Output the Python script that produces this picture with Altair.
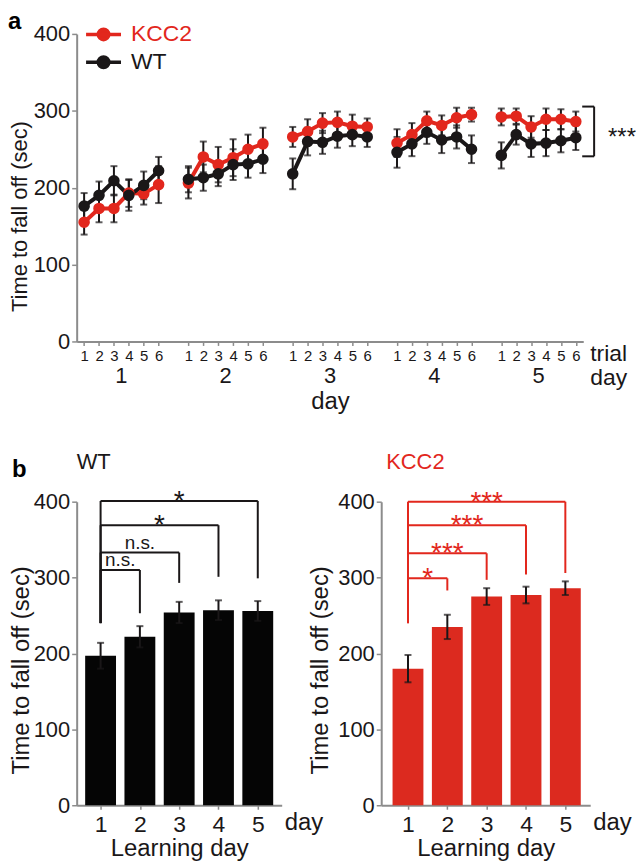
import altair as alt
import pandas as pd

FONT = "Liberation Sans"
RED = "#e2271d"
BAR_RED = "#dc2a1f"
BLACK = "#1a1718"
GRAY = "#8c8c8c"

# ---------------- data ----------------
genotypes = ["KCC2", "WT"]
days = [1, 2, 3, 4, 5]
trials = [1, 2, 3, 4, 5, 6]

kcc2_mean = [155, 173, 173, 193, 192, 204,
             206, 240, 230, 239, 250, 257,
             266, 273, 284, 285, 280, 279,
             258, 269, 287, 281, 291, 295,
             292, 293, 279, 289, 289, 286]
kcc2_sem = [16, 18, 18, 18, 14, 24,
            20, 20, 23, 24, 19, 21,
            13, 16, 13, 14, 15, 11,
            18, 15, 12, 13, 13, 9,
            11, 10, 14, 14, 13, 13]
wt_mean = [176, 190, 209, 190, 203, 222,
           211, 213, 218, 230, 231, 237,
           218, 260, 259, 267, 269, 266,
           246, 257, 272, 262, 266, 250,
           242, 269, 257, 258, 261, 265]
wt_sem = [17, 18, 19, 20, 18, 18,
          17, 17, 16, 20, 18, 18,
          20, 18, 15, 15, 15, 13,
          20, 16, 15, 17, 15, 18,
          17, 13, 17, 17, 15, 16]

# panel b
wt_bar = [197, 222, 254, 257, 256]
wt_bar_sem = [17, 14, 14, 13, 13]
kcc2_bar = [180, 235, 275, 277, 286]
kcc2_bar_sem = [18, 16, 11, 11, 9]

wt_br_to = [2, 3, 4, 5]
wt_br_h = [310, 333, 369, 401]
wt_br_end = [253, 293, 301, 299]
wt_br_label = ["n.s.", "n.s.", "*", "*"]
kcc2_br_to = [2, 3, 4, 5]
kcc2_br_h = [299, 332, 369, 400]
kcc2_br_end = [283, 297, 304, 306]
kcc2_br_label = ["*", "***", "***", "***"]
br_start = 240

# overall significance bracket (panel a)
sig_x1 = [33.43, 33.43, 34.23]
sig_x2 = [34.23, 34.23, 34.23]
sig_y1 = [305.5, 240.8, 240.8]
sig_y2 = [305.5, 240.8, 305.5]

# ---------------- panel a ----------------
rows = []
for g, means, sems in (("KCC2", kcc2_mean, kcc2_sem), ("WT", wt_mean, wt_sem)):
    for i, (m, s) in enumerate(zip(means, sems)):
        d = days[i // 6]
        t = trials[i % 6]
        rows.append({"genotype": g, "day": d, "trial": t,
                     "pos": (d - 1) * 7 + (t - 1), "series": f"{g}-{d}",
                     "mean": m, "lo": m - s, "hi": m + s})
df = pd.DataFrame(rows)
tick_positions = [(d - 1) * 7 + (t - 1) for d in days for t in trials]

TW, TH = 509, 309
xs = alt.Scale(domain=[-0.5, 33.5], nice=False, zero=False)
ys = alt.Scale(domain=[0, 400], nice=False, zero=True)
cscale = alt.Scale(domain=genotypes, range=[RED, BLACK])

x_axis = alt.Axis(values=tick_positions, labelExpr="'' + ((datum.value % 7) + 1)", grid=False,
                  tickSize=4, tickColor=GRAY, tickWidth=1.5, domainColor=GRAY, domainWidth=2,
                  labelFontSize=15, labelPadding=3, labelColor=BLACK, labelFlush=False,
                  labelOverlap=False, labelSeparation=0, labelBound=False,
                  title="day", titleFontSize=24, titleFontWeight="normal",
                  titleColor=BLACK, titleY=67, titleBaseline="alphabetic")
y_axis = alt.Axis(values=[0, 100, 200, 300, 400], grid=False, tickSize=5, tickColor=GRAY,
                  tickWidth=1.5, domainColor=GRAY, domainWidth=2, labelFontSize=22,
                  labelColor=BLACK, labelPadding=2, labelFlush=False, labelOverlap=False,
                  title="Time to fall off (sec)", titleFontSize=22, titleFontWeight="normal",
                  titleColor=BLACK, titleX=-50, titleY=183, titleAngle=270,
                  titleBaseline="alphabetic", titleAlign="center")

# custom legend glyph: a short line with a dot in its middle
legend = alt.Legend(title=None, orient="none", legendX=11.5, legendY=-15, direction="vertical",
                    symbolType="M-1.3,0L1.3,0M0.39,0A0.39,0.39,0,1,1,-0.39,0A0.39,0.39,0,1,1,0.39,0Z",
                    symbolSize=729, symbolStrokeWidth=3.5, labelFontSize=23, labelOffset=12,
                    rowPadding=0, padding=0,
                    labelColor={"expr": f"datum.label == 'KCC2' ? '{RED}' : '{BLACK}'"},
                    symbolFillColor={"expr": f"datum.value == 'KCC2' ? '{RED}' : '{BLACK}'"},
                    symbolStrokeColor={"expr": f"datum.value == 'KCC2' ? '{RED}' : '{BLACK}'"})


def TX(field):
    return alt.X(field, scale=xs, axis=x_axis)


def TY(field):
    return alt.Y(field, scale=ys, axis=y_axis)


base = alt.Chart(df)
err = base.mark_rule(color=BLACK, strokeWidth=2).encode(
    x=TX("pos:Q"), y=TY("lo:Q"), y2="hi:Q")
cap_lo = base.mark_tick(color=BLACK, orient="horizontal", size=7, thickness=2).encode(
    x=TX("pos:Q"), y=TY("lo:Q"))
cap_hi = base.mark_tick(color=BLACK, orient="horizontal", size=7, thickness=2).encode(
    x=TX("pos:Q"), y=TY("hi:Q"))
lines = base.mark_line(strokeWidth=4).encode(
    x=TX("pos:Q"), y=TY("mean:Q"),
    stroke=alt.Stroke("genotype:N", scale=cscale, legend=legend),
    detail="series:N")
points = base.mark_circle(size=135, opacity=1).encode(
    x=TX("pos:Q"), y=TY("mean:Q"),
    fill=alt.Fill("genotype:N", scale=cscale, legend=legend))

day_df = pd.DataFrame({"day": days, "center": [(d - 1) * 7 + 2.5 for d in days]})
day_text = alt.Chart(day_df).mark_text(fontSize=22, baseline="alphabetic", color=BLACK).encode(
    x=TX("center:Q"), y=alt.value(351), text="day:N")

one = pd.DataFrame({"k": [0]})
trial_lab = alt.Chart(one).mark_text(text="trial", fontSize=23, align="left",
                                     baseline="alphabetic", color=BLACK).encode(
    x=alt.value(516), y=alt.value(329))
day_lab = alt.Chart(one).mark_text(text="day", fontSize=23, align="left",
                                   baseline="alphabetic", color=BLACK).encode(
    x=alt.value(516), y=alt.value(353))
a_lab = alt.Chart(one).mark_text(text="a", fontSize=24, fontWeight="bold", align="left",
                                 baseline="alphabetic", color="#000000").encode(
    x=alt.value(-69), y=alt.value(-5))

sig_df = pd.DataFrame({"x1": sig_x1, "x2": sig_x2, "y1": sig_y1, "y2": sig_y2})
sig = alt.Chart(sig_df).mark_rule(color=BLACK, strokeWidth=2).encode(
    x=TX("x1:Q"), x2="x2:Q", y=TY("y1:Q"), y2="y2:Q")
sig_txt = alt.Chart(pd.DataFrame({"x": [36.1], "y": [255], "t": ["***"]})).mark_text(
    fontSize=24, baseline="alphabetic", color=BLACK).encode(
    x=TX("x:Q"), y=TY("y:Q"), text="t:N")

top = alt.layer(err, cap_lo, cap_hi, lines, points, day_text, trial_lab, day_lab,
                a_lab, sig, sig_txt).properties(width=TW, height=TH)


# ---------------- panel b ----------------
def bar_panel(means, sems, bar_color, br_color, br_to, br_h, br_end, br_label,
              width, xdom, title, title_color, title_dx, ytitle_x, extra=None):
    bdf = pd.DataFrame({"day": days, "mean": means,
                        "lo": [m - s for m, s in zip(means, sems)],
                        "hi": [m + s for m, s in zip(means, sems)]})
    bx = alt.Scale(domain=xdom, nice=False, zero=False)
    by = alt.Scale(domain=[0, 400], nice=False, zero=True)
    xax = alt.Axis(values=days, format="d", grid=False, tickSize=4, tickColor=GRAY,
                   tickWidth=1.5, domainColor=GRAY, domainWidth=2, labelFontSize=23,
                   labelColor=BLACK, labelPadding=4, labelFlush=False, labelOverlap=False,
                   title="Learning day", titleFontSize=24, titleFontWeight="normal",
                   titleColor=BLACK, titleY=51, titleBaseline="alphabetic")
    yax = alt.Axis(values=[0, 100, 200, 300, 400], grid=False, tickSize=5, tickColor=GRAY,
                   tickWidth=1.5, domainColor=GRAY, domainWidth=2, labelFontSize=22,
                   labelColor=BLACK, labelPadding=2, labelFlush=False, labelOverlap=False,
                   title="Time to fall off (sec)", titleFontSize=24, titleFontWeight="normal",
                   titleColor=BLACK, titleX=ytitle_x, titleY=169, titleAngle=270,
                   titleBaseline="alphabetic", titleAlign="center")

    def BX(f):
        return alt.X(f, scale=bx, axis=xax)

    def BY(f):
        return alt.Y(f, scale=by, axis=yax)

    bars = alt.Chart(bdf).mark_bar(color=bar_color, size=31, orient="vertical").encode(
        x=BX("day:Q"), y=BY("mean:Q"))
    e = alt.Chart(bdf).mark_rule(color=BLACK, strokeWidth=2).encode(
        x=BX("day:Q"), y=BY("lo:Q"), y2="hi:Q")
    c1 = alt.Chart(bdf).mark_tick(color=BLACK, orient="horizontal", size=7, thickness=2).encode(
        x=BX("day:Q"), y=BY("lo:Q"))
    c2 = alt.Chart(bdf).mark_tick(color=BLACK, orient="horizontal", size=7, thickness=2).encode(
        x=BX("day:Q"), y=BY("hi:Q"))

    brdf = pd.DataFrame({"from": [1] * len(br_to), "to": br_to, "h": br_h, "end": br_end,
                         "start": [br_start] * len(br_to), "label": br_label})
    brdf["mid"] = [(1 + t) / 2 for t in br_to]
    hline = alt.Chart(brdf).mark_rule(color=br_color, strokeWidth=2).encode(
        x=BX("from:Q"), x2="to:Q", y=BY("h:Q"))
    rv = alt.Chart(brdf).mark_rule(color=br_color, strokeWidth=2).encode(
        x=BX("to:Q"), y=BY("end:Q"), y2="h:Q")
    lv = alt.Chart(brdf).mark_rule(color=br_color, strokeWidth=2).encode(
        x=BX("from:Q"), y=BY("start:Q"), y2="h:Q")
    ns = alt.Chart(brdf).transform_filter("datum.label == 'n.s.'").mark_text(
        fontSize=19, baseline="alphabetic", dy=-4, color=br_color).encode(
        x=BX("mid:Q"), y=BY("h:Q"), text="label:N")
    st = alt.Chart(brdf).transform_filter("datum.label != 'n.s.'").mark_text(
        fontSize=28, baseline="alphabetic", dy=9, color=br_color).encode(
        x=BX("mid:Q"), y=BY("h:Q"), text="label:N")

    ttl = alt.Chart(one).mark_text(text=title, fontSize=22, align="left",
                                   baseline="alphabetic", color=title_color).encode(
        x=alt.value(title_dx), y=alt.value(-33))
    dlab = alt.Chart(one).mark_text(text="day", fontSize=24, align="left",
                                    baseline="alphabetic", color=BLACK).encode(
        x=alt.value(width + 3), y=alt.value(330))
    layers = [bars, e, c1, c2, lv, hline, rv, ns, st, ttl, dlab]
    if extra is not None:
        layers.append(extra)
    return alt.layer(*layers).properties(width=width, height=305)


b_lab = alt.Chart(one).mark_text(text="b", fontSize=24, fontWeight="bold", align="left",
                                 baseline="alphabetic", color="#000000").encode(
    x=alt.value(-65), y=alt.value(-25))

wt_panel = bar_panel(wt_bar, wt_bar_sem, "#050505", BLACK, wt_br_to, wt_br_h, wt_br_end,
                     wt_br_label, 206, [0.518, 5.482], "WT", BLACK, 0, -48, extra=b_lab)
kcc2_panel = bar_panel(kcc2_bar, kcc2_bar_sem, BAR_RED, RED, kcc2_br_to, kcc2_br_h,
                       kcc2_br_end, kcc2_br_label, 210, [0.446, 5.506], "KCC2", RED, 5, -54)

bottom = alt.hconcat(wt_panel, kcc2_panel, spacing=100, bounds="flush")

chart = alt.vconcat(top, bottom, spacing=161, bounds="flush").resolve_scale(
    x="independent", y="independent", fill="independent", stroke="independent"
).properties(padding={"left": 0, "top": 0, "right": 0, "bottom": 0}).configure(
    font=FONT).configure_axis(labelOverlap=False).configure_view(stroke=None)

chart.save("out.html", embed_options={"renderer": "svg", "actions": False})
